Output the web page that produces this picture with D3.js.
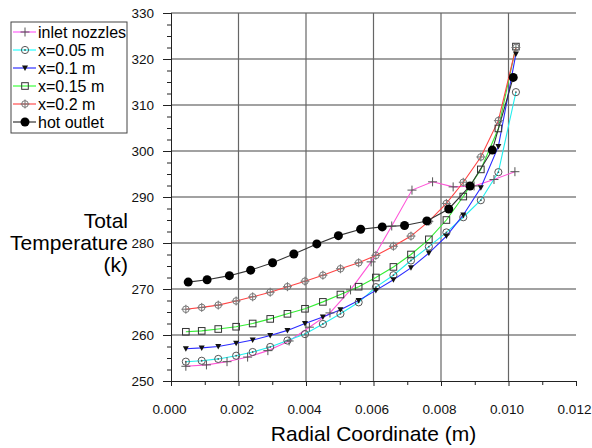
<!DOCTYPE html>
<html lang="en">
  <head>
    <meta charset="UTF-8" />
    <title>Total Temperature vs Radial Coordinate</title>
    <script src="https://d3js.org/d3.v7.min.js"></script>
    <style>
      body {
        margin: 0;
        background: white;
        font-family: 'Liberation Sans', Arial, sans-serif;
      }

      svg {
        display: block;
      }
    </style>
  </head>
  <body>
    <svg width="592" height="448"></svg>

    <script>
      // radial positions (m) of the sample points
      const rStations = [
        0.00044, 0.00091, 0.0014, 0.00193, 0.00242, 0.00294, 0.00345, 0.00397,
        0.0045, 0.00502, 0.00556, 0.00607, 0.00659, 0.00711, 0.00764, 0.00816,
        0.00866, 0.00918, 0.0097, 0.01022,
      ];
      const rInlet = [
        0.00044, 0.00105, 0.00166, 0.00227, 0.00287, 0.0035, 0.0041, 0.00471,
        0.00532, 0.00593, 0.00654, 0.00714, 0.00775, 0.00836, 0.00898, 0.00957,
        0.01019,
      ];
      const rOutlet = [
        0.00051, 0.00107, 0.00173, 0.00236, 0.00301, 0.00364, 0.00432, 0.00496,
        0.00562, 0.00626, 0.00692, 0.00758, 0.00823, 0.00886, 0.00952, 0.01014,
      ];

      // total temperature (K)
      const tInlet = [
        253.2, 253.5, 254.2, 255.2, 256.6, 258.7, 261.7, 264.8, 269.8, 275.9,
        283.7, 291.5, 293.3, 292.2, 292.4, 293.8, 295.5,
      ];
      const tX005 = [
        254.2, 254.4, 254.8, 255.5, 256.3, 257.4, 258.8, 260.2, 262.4, 264.6,
        267.1, 270.4, 273.0, 276.2, 279.2, 282.3, 285.6, 289.3, 295.4, 312.8,
      ];
      const tX01 = [
        257.0, 257.2, 257.5, 258.2, 258.9, 259.9, 261.0, 262.5, 263.9, 265.5,
        267.5, 269.7, 272.0, 274.6, 277.8, 281.5, 286.1, 292.0, 301.0, 321.1,
      ];
      const tX015 = [
        260.7, 260.9, 261.3, 261.8, 262.5, 263.5, 264.6, 265.7, 267.2, 268.8,
        270.5, 272.5, 274.8, 277.5, 280.8, 285.0, 290.1, 296.0, 304.9, 322.7,
      ];
      const tX02 = [
        265.6, 266.0, 266.5, 267.4, 268.3, 269.3, 270.5, 271.7, 273.0, 274.4,
        275.7, 277.3, 279.3, 281.5, 284.7, 288.6, 293.2, 298.7, 306.6, 322.5,
      ];
      const tOutlet = [
        271.5, 272.0, 272.9, 274.1, 275.7, 277.6, 279.8, 281.6, 283.0, 283.5,
        283.8, 284.8, 287.4, 292.4, 300.2, 316.0,
      ];

      const xTicks = [0, 0.002, 0.004, 0.006, 0.008, 0.01, 0.012];
      const yTicks = [250, 260, 270, 280, 290, 300, 310, 320, 330];

      const series = [
        { name: 'inlet nozzles', r: rInlet, t: tInlet, color: '#ff55d8', marker: 'plus' },
        { name: 'x=0.05 m', r: rStations, t: tX005, color: '#22eeee', marker: 'dotcircle' },
        { name: 'x=0.1 m', r: rStations, t: tX01, color: '#2b2bff', marker: 'triangle' },
        { name: 'x=0.15 m', r: rStations, t: tX015, color: '#33ee33', marker: 'square' },
        { name: 'x=0.2 m', r: rStations, t: tX02, color: '#ff4444', marker: 'pluscircle' },
        { name: 'hot outlet', r: rOutlet, t: tOutlet, color: '#333', marker: 'dot' },
      ];

      const plot = { left: 171, right: 576, top: 13, bottom: 381 };

      const svg = d3.select('svg');

      const x = d3.scaleLinear().domain([0, 0.012]).range([plot.left, plot.right]);
      const y = d3.scaleLinear().domain([250, 330]).range([plot.bottom, plot.top]);

      // grid
      svg
        .append('g')
        .selectAll('line')
        .data(yTicks.slice(1))
        .join('line')
        .attr('x1', plot.left)
        .attr('x2', plot.right)
        .attr('y1', (d) => y(d))
        .attr('y2', (d) => y(d))
        .attr('stroke', '#444')
        .attr('stroke-width', 1.2);

      svg
        .append('g')
        .selectAll('line')
        .data(xTicks.slice(1, -1))
        .join('line')
        .attr('x1', (d) => x(d))
        .attr('x2', (d) => x(d))
        .attr('y1', plot.top)
        .attr('y2', plot.bottom)
        .attr('stroke', '#666')
        .attr('stroke-width', 1.2);

      // axes
      const xAxis = svg
        .append('g')
        .attr('transform', `translate(0,${plot.bottom})`)
        .call(
          d3.axisBottom(x).tickValues(xTicks).tickFormat(d3.format('.3f')).tickSize(5).tickPadding(18),
        );
      svg
        .append('g')
        .attr('transform', `translate(0,${plot.bottom})`)
        .call(d3.axisBottom(x).tickValues(d3.range(0.001, 0.012, 0.002)).tickSize(4).tickFormat(''));

      svg
        .append('g')
        .attr('transform', `translate(${plot.left},0)`)
        .call(d3.axisLeft(y).tickValues(yTicks).tickSize(8).tickPadding(9));
      svg
        .append('g')
        .attr('transform', `translate(${plot.left},0)`)
        .call(
          d3.axisLeft(y).tickValues(d3.range(252.5, 330, 2.5).filter((v) => v % 10 !== 0)).tickSize(4).tickFormat(''),
        );

      svg.selectAll('.domain').attr('stroke', '#222');
      svg.selectAll('.tick line').attr('stroke', '#222');
      svg
        .selectAll('.tick text')
        .attr('font-family', "'Liberation Sans', Arial, sans-serif")
        .attr('font-size', 13.5)
        .attr('fill', '#111');
      xAxis.selectAll('.tick text').attr('dx', -2);

      // lines
      const line = d3
        .line()
        .x((d) => x(d[0]))
        .y((d) => y(d[1]));

      series.forEach((s) => {
        s.points = s.r.map((r, i) => [r, s.t[i]]);
      });

      svg
        .append('g')
        .selectAll('path')
        .data(series)
        .join('path')
        .attr('d', (s) => line(s.points))
        .attr('fill', 'none')
        .attr('stroke', (s) => s.color)
        .attr('stroke-width', 1.1);

      function drawMarker(g, type) {
        if (type === 'plus') {
          g.append('path').attr('d', 'M-4.5,0H4.5M0,-4.5V4.5').attr('stroke', '#555').attr('stroke-width', 1);
        } else if (type === 'dotcircle') {
          g.append('circle').attr('r', 3.6).attr('fill', 'none').attr('stroke', '#555').attr('stroke-width', 1);
          g.append('circle').attr('r', 0.9).attr('fill', '#555');
        } else if (type === 'triangle') {
          g.append('path').attr('d', 'M-3,-2.5L3,-2.5L0,3Z').attr('fill', '#111');
        } else if (type === 'square') {
          g.append('rect').attr('x', -3.3).attr('y', -3.3).attr('width', 6.6).attr('height', 6.6)
            .attr('fill', 'none').attr('stroke', '#333').attr('stroke-width', 1);
        } else if (type === 'pluscircle') {
          g.append('circle').attr('r', 3.3).attr('fill', 'none').attr('stroke', '#777').attr('stroke-width', 1);
          g.append('path').attr('d', 'M-4.5,0H4.5M0,-4.5V4.5').attr('stroke', '#777').attr('stroke-width', 1);
        } else {
          g.append('circle').attr('r', 4.5).attr('fill', '#000');
        }
      }

      // markers
      series.forEach((s) => {
        svg
          .append('g')
          .selectAll('g')
          .data(s.points)
          .join('g')
          .attr('transform', (d) => `translate(${x(d[0])},${y(d[1])})`)
          .each(function () {
            drawMarker(d3.select(this), s.marker);
          });
      });

      // legend
      const legend = svg.append('g').attr('transform', 'translate(11,22)');
      legend
        .append('rect')
        .attr('width', 116)
        .attr('height', 111)
        .attr('fill', 'white')
        .attr('stroke', '#444');

      const rows = legend
        .selectAll('.row')
        .data(series)
        .join('g')
        .attr('class', 'row')
        .attr('transform', (d, i) => `translate(0,${10 + i * 18})`);

      rows
        .append('line')
        .attr('x1', 2)
        .attr('x2', 25)
        .attr('stroke', (d) => d3.color(d.color).brighter(d.marker === 'dot' ? 0 : 0.4))
        .attr('stroke-width', 1.2);
      rows.append('g').attr('transform', 'translate(14,0)').each(function (d) {
        drawMarker(d3.select(this), d.marker);
      });
      rows
        .append('text')
        .attr('x', 27)
        .attr('dy', '0.35em')
        .attr('font-size', 16)
        .attr('fill', '#000')
        .text((d) => d.name);

      // axis titles
      svg
        .append('text')
        .attr('x', (plot.left + plot.right) / 2)
        .attr('y', 441)
        .attr('text-anchor', 'middle')
        .attr('font-size', 21)
        .attr('fill', '#000')
        .text('Radial Coordinate (m)');

      svg
        .append('g')
        .selectAll('text')
        .data(['Total', 'Temperature', '(k)'])
        .join('text')
        .attr('x', 128)
        .attr('y', (d, i) => 228 + i * 22)
        .attr('text-anchor', 'end')
        .attr('font-size', 21)
        .attr('fill', '#000')
        .text((d) => d);
    </script>
  </body>
</html>
